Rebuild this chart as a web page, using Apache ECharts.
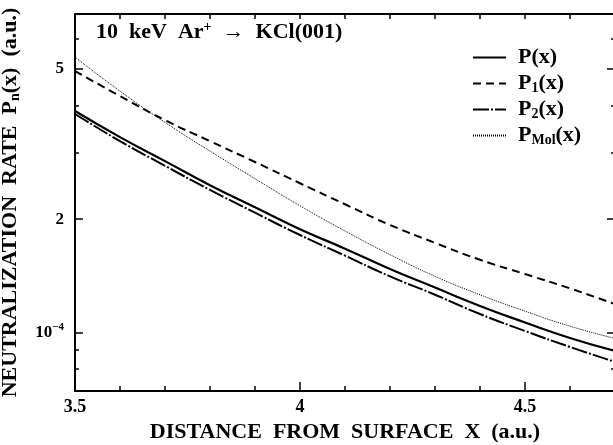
<!DOCTYPE html>
<html>
<head>
<meta charset="utf-8">
<script src="https://cdn.jsdelivr.net/npm/echarts@6/dist/echarts.min.js"></script>
<style>
html, body { margin: 0; padding: 0; background: #fff; }
#main { width: 613px; height: 445px; }
</style>
</head>
<body>
<div id="main"></div>
<script>
// distance from surface (a.u.)
const xs = [3.5, 3.6, 3.7, 3.8, 3.9, 4.0, 4.1, 4.2, 4.3, 4.4, 4.5, 4.6, 4.7];
// neutralization rates
const pTotal = [3.87e-4, 3.30e-4, 2.85e-4, 2.46e-4, 2.15e-4, 1.88e-4, 1.67e-4, 1.475e-4, 1.317e-4, 1.177e-4, 1.064e-4, 0.968e-4, 0.894e-4];
const p1 = [4.94e-4, 4.24e-4, 3.66e-4, 3.22e-4, 2.835e-4, 2.49e-4, 2.19e-4, 1.93e-4, 1.73e-4, 1.56e-4, 1.43e-4, 1.31e-4, 1.19e-4];
const p2 = [3.80e-4, 3.22e-4, 2.77e-4, 2.39e-4, 2.08e-4, 1.815e-4, 1.60e-4, 1.41e-4, 1.26e-4, 1.12e-4, 1.01e-4, 0.916e-4, 0.836e-4];
const pMol = [5.38e-4, 4.37e-4, 3.61e-4, 3.03e-4, 2.56e-4, 2.17e-4, 1.86e-4, 1.61e-4, 1.41e-4, 1.26e-4, 1.14e-4, 1.04e-4, 0.965e-4];

// ticks
const xLabels = [3.5, 4, 4.5];
const xMinor = [3.6, 3.7, 3.8, 3.9, 4.1, 4.2, 4.3, 4.4, 4.6];
const xAll = [3.6, 3.7, 3.8, 3.9, 4.0, 4.1, 4.2, 4.3, 4.4, 4.5, 4.6];
const yMajor = [1e-4, 2e-4, 5e-4];
const yTickText = ['10{sup|\u22124}', '2', '5'];
const yMinor = [8e-5, 9e-5, 3e-4, 4e-4, 6e-4];
const yMin = 7e-5, yMax = 7e-4;

const serif = "'Liberation Serif', 'DejaVu Serif', serif";
const lg = v => Math.log10(v);

const names = ['P', 'P1', 'P2', 'PMol'];
const legendText = {
    P: 'P(x)',
    P1: 'P{sub|1}(x)',
    P2: 'P{sub|2}(x)',
    PMol: 'P{sub|Mol}(x)'
};

var chart = echarts.init(document.getElementById('main'));

// helper value axis in log10 space, only for drawing ticks/labels
function helperY(position, ticks, len, withLabels) {
    return {
        type: 'value',
        position: position,
        min: lg(yMin),
        max: lg(yMax),
        splitLine: { show: false },
        axisLine: { show: false },
        axisTick: {
            show: true,
            inside: true,
            length: len,
            customValues: ticks.map(lg),
            lineStyle: { color: '#000', width: 1.5 }
        },
        axisLabel: withLabels ? {
            show: true,
            customValues: yMajor.map(lg),
            margin: 11,
            color: '#000',
            fontFamily: serif,
            fontWeight: 'bold',
            fontSize: 17,
            lineHeight: 22,
            formatter: function (v) {
                const i = yMajor.findIndex(t => Math.abs(lg(t) - v) < 1e-6);
                return i >= 0 ? yTickText[i] : '';
            },
            rich: {
                sup: { fontFamily: serif, fontWeight: 'bold', fontSize: 11, color: '#000', verticalAlign: 'top', lineHeight: 11 }
            }
        } : { show: false }
    };
}

function serie(name, vals, lineStyle) {
    return {
        name: name,
        type: 'line',
        xAxisIndex: 0,
        yAxisIndex: 0,
        smooth: true,
        symbol: 'none',
        showSymbol: false,
        silent: true,
        data: xs.map((x, i) => [x, vals[i]]),
        lineStyle: Object.assign({ color: '#000' }, lineStyle),
        itemStyle: { color: '#000' }
    };
}

chart.setOption({
    animation: false,
    backgroundColor: '#fff',
    grid: { left: 75, top: 14, right: -2, bottom: 54, outerBoundsMode: 'none' },
    legend: {
        data: names,
        orient: 'vertical',
        left: 467,
        top: 41,
        itemWidth: 33,
        itemHeight: 14,
        itemGap: 3,
        selectedMode: false,
        itemStyle: { opacity: 0 },
        formatter: n => legendText[n],
        textStyle: {
            fontFamily: serif,
            fontWeight: 'bold',
            fontSize: 22,
            color: '#000',
            lineHeight: 23,
            padding: [0, 0, 0, 7],
            rich: {
                sub: { fontFamily: serif, fontWeight: 'bold', fontSize: 14, color: '#000', verticalAlign: 'bottom', lineHeight: 8 }
            }
        }
    },
    graphic: [{
        type: 'text',
        left: 96,
        top: 20,
        style: {
            text: '10  keV  Ar{sup|+}  \u2192  KCl(001)',
            font: 'bold 22px ' + serif,
            fill: '#000',
            lineHeight: 25,
            rich: {
                sup: { font: 'bold 14px ' + serif, fill: '#000', verticalAlign: 'top', lineHeight: 12 }
            }
        }
    }],
    xAxis: [{
        type: 'value',
        min: 3.5,
        max: 4.7,
        position: 'bottom',
        name: 'DISTANCE  FROM  SURFACE  X  (a.u.)',
        nameLocation: 'middle',
        nameGap: 26,
        nameTextStyle: { fontFamily: serif, fontWeight: 'bold', fontSize: 22, color: '#000' },
        splitLine: { show: false },
        axisLine: { show: true, lineStyle: { color: '#000', width: 2 } },
        axisTick: { show: true, inside: true, length: 9, customValues: [4, 4.5], lineStyle: { color: '#000', width: 1.5 } },
        axisLabel: {
            show: true, customValues: xLabels, margin: 7,
            color: '#000', fontFamily: serif, fontWeight: 'bold', fontSize: 18,
            formatter: v => String(v)
        }
    }, {
        type: 'value',
        min: 3.5,
        max: 4.7,
        position: 'bottom',
        splitLine: { show: false },
        axisLine: { show: false },
        axisTick: { show: true, inside: true, length: 5, customValues: xMinor, lineStyle: { color: '#000', width: 1.5 } },
        axisLabel: { show: false }
    }, {
        type: 'value',
        min: 3.5,
        max: 4.7,
        position: 'top',
        splitLine: { show: false },
        axisLine: { show: true, lineStyle: { color: '#000', width: 2 } },
        axisTick: { show: true, inside: true, length: 5, customValues: xAll, lineStyle: { color: '#000', width: 1.5 } },
        axisLabel: { show: false }
    }],
    yAxis: [{
        type: 'log',
        logBase: 10,
        min: yMin,
        max: yMax,
        position: 'left',
        name: 'NEUTRALIZATION  RATE  P{sub|n}(x)  (a.u.)',
        nameLocation: 'middle',
        nameRotate: 90,
        nameGap: 53,
        nameTextStyle: {
            fontFamily: serif, fontWeight: 'bold', fontSize: 22, color: '#000', lineHeight: 24,
            rich: {
                sub: { fontFamily: serif, fontWeight: 'bold', fontSize: 14, color: '#000', verticalAlign: 'bottom', lineHeight: 8 }
            }
        },
        splitLine: { show: false },
        minorSplitLine: { show: false },
        axisLine: { show: true, lineStyle: { color: '#000', width: 2 } },
        axisTick: { show: false },
        axisLabel: { show: false }
    },
        helperY('left', yMajor, 8, true),
        helperY('left', yMinor, 4, false),
        helperY('right', yMajor, 8, false),
        helperY('right', yMinor, 4, false)
    ],
    series: [
        serie('P', pTotal, { width: 2.2, type: 'solid' }),
        serie('P1', p1, { width: 2, type: [8, 5] }),
        serie('P2', p2, { width: 2, type: [16, 2, 2, 2] }),
        serie('PMol', pMol, { width: 1, type: [1, 1] })
    ]
});
</script>
</body>
</html>
